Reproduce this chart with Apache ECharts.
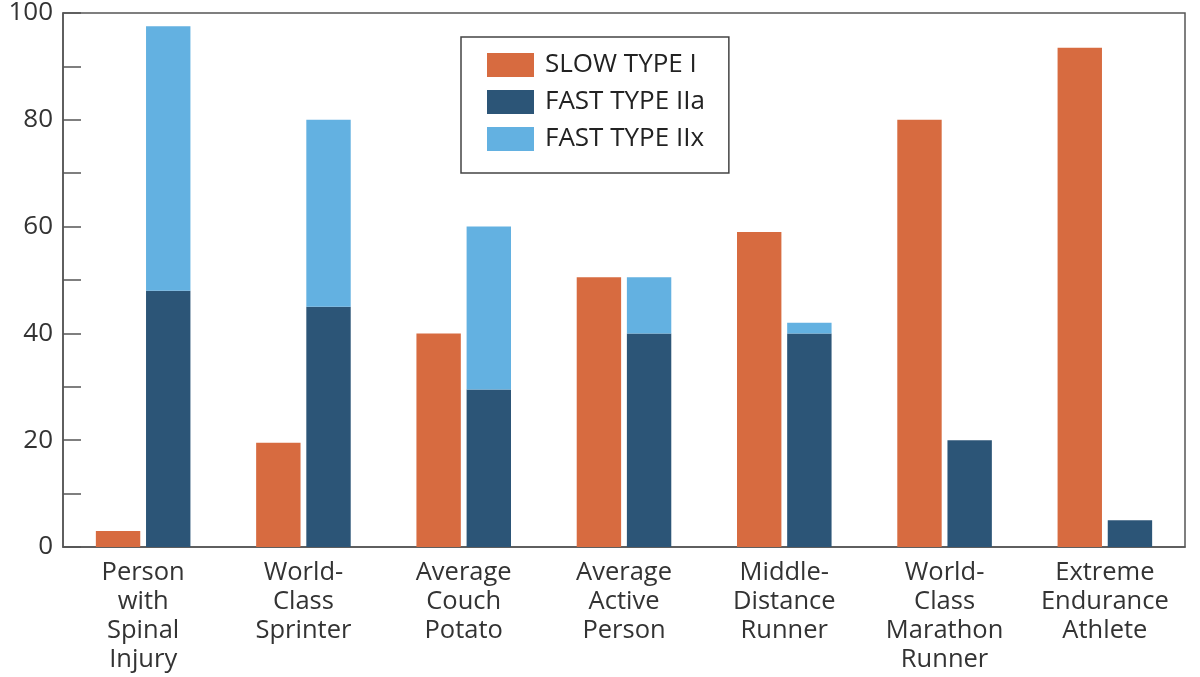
<!DOCTYPE html>
<html>
<head>
<meta charset="utf-8">
<script src="https://cdn.jsdelivr.net/npm/echarts@6/dist/echarts.min.js"></script>
<style>
html,body{margin:0;padding:0;background:#fff;}
#chart{width:1200px;height:677px;}
</style>
</head>
<body>
<div id="chart"></div>
<script>
const categories = [
  "Person\nwith\nSpinal\nInjury",
  "World-\nClass\nSprinter",
  "Average\nCouch\nPotato",
  "Average\nActive\nPerson",
  "Middle-\nDistance\nRunner",
  "World-\nClass\nMarathon\nRunner",
  "Extreme\nEndurance\nAthlete"
];
const seriesNames = ["SLOW TYPE I", "FAST TYPE IIa", "FAST TYPE IIx"];
const slowTypeI = [3, 19.5, 40, 50.5, 59, 80, 93.5];
const fastTypeIIa = [48, 45, 29.5, 40, 40, 20, 5];
const fastTypeIIx = [49.5, 35, 30.5, 10.5, 2, 0, 0];
const yTicks = [0, 20, 40, 60, 80, 100];

const FONT = '"Open Sans", "DejaVu Sans", sans-serif';
const chart = echarts.init(document.getElementById('chart'));
chart.setOption({
  animation: false,
  backgroundColor: '#fff',
  grid: {
    left: 63, right: 15, top: 12, bottom: 130,
    show: true, borderColor: '#555', borderWidth: 1.5, backgroundColor: 'transparent'
  },
  legend: {
    orient: 'vertical',
    left: 461, top: 37,
    data: seriesNames,
    itemWidth: 47, itemHeight: 24, itemGap: 11,
    padding: [15, 24, 21, 26],
    borderColor: '#444', borderWidth: 1.5,
    icon: 'rect',
    textStyle: { fontFamily: FONT, fontSize: 26, lineHeight: 26, color: '#222', padding: [0, 0, 0, 6] }
  },
  xAxis: {
    type: 'category',
    data: categories,
    axisLine: { show: true, lineStyle: { color: '#555', width: 1.5 } },
    axisTick: { show: false },
    axisLabel: { fontFamily: FONT, fontSize: 25.5, color: '#333', lineHeight: 29, margin: 11, interval: 0 }
  },
  yAxis: {
    type: 'value',
    min: 0, max: 100, interval: 10,
    axisLine: { show: true, lineStyle: { color: '#555', width: 1.5 } },
    axisTick: { show: true, inside: true, length: 18, lineStyle: { color: '#555', width: 1.5 } },
    splitLine: { show: false },
    axisLabel: {
      fontFamily: FONT, fontSize: 26, color: '#333', margin: 10,
      formatter: v => (yTicks.indexOf(v) >= 0 ? String(v) : '')
    }
  },
  series: [
    { name: seriesNames[0], type: 'bar', data: slowTypeI, itemStyle: { color: '#d76b40' },
      barGap: '13%', barCategoryGap: '41%' },
    { name: seriesNames[1], type: 'bar', stack: 'fast', data: fastTypeIIa, itemStyle: { color: '#2c5577' } },
    { name: seriesNames[2], type: 'bar', stack: 'fast', data: fastTypeIIx, itemStyle: { color: '#63b1e1' } }
  ]
});
</script>
</body>
</html>
